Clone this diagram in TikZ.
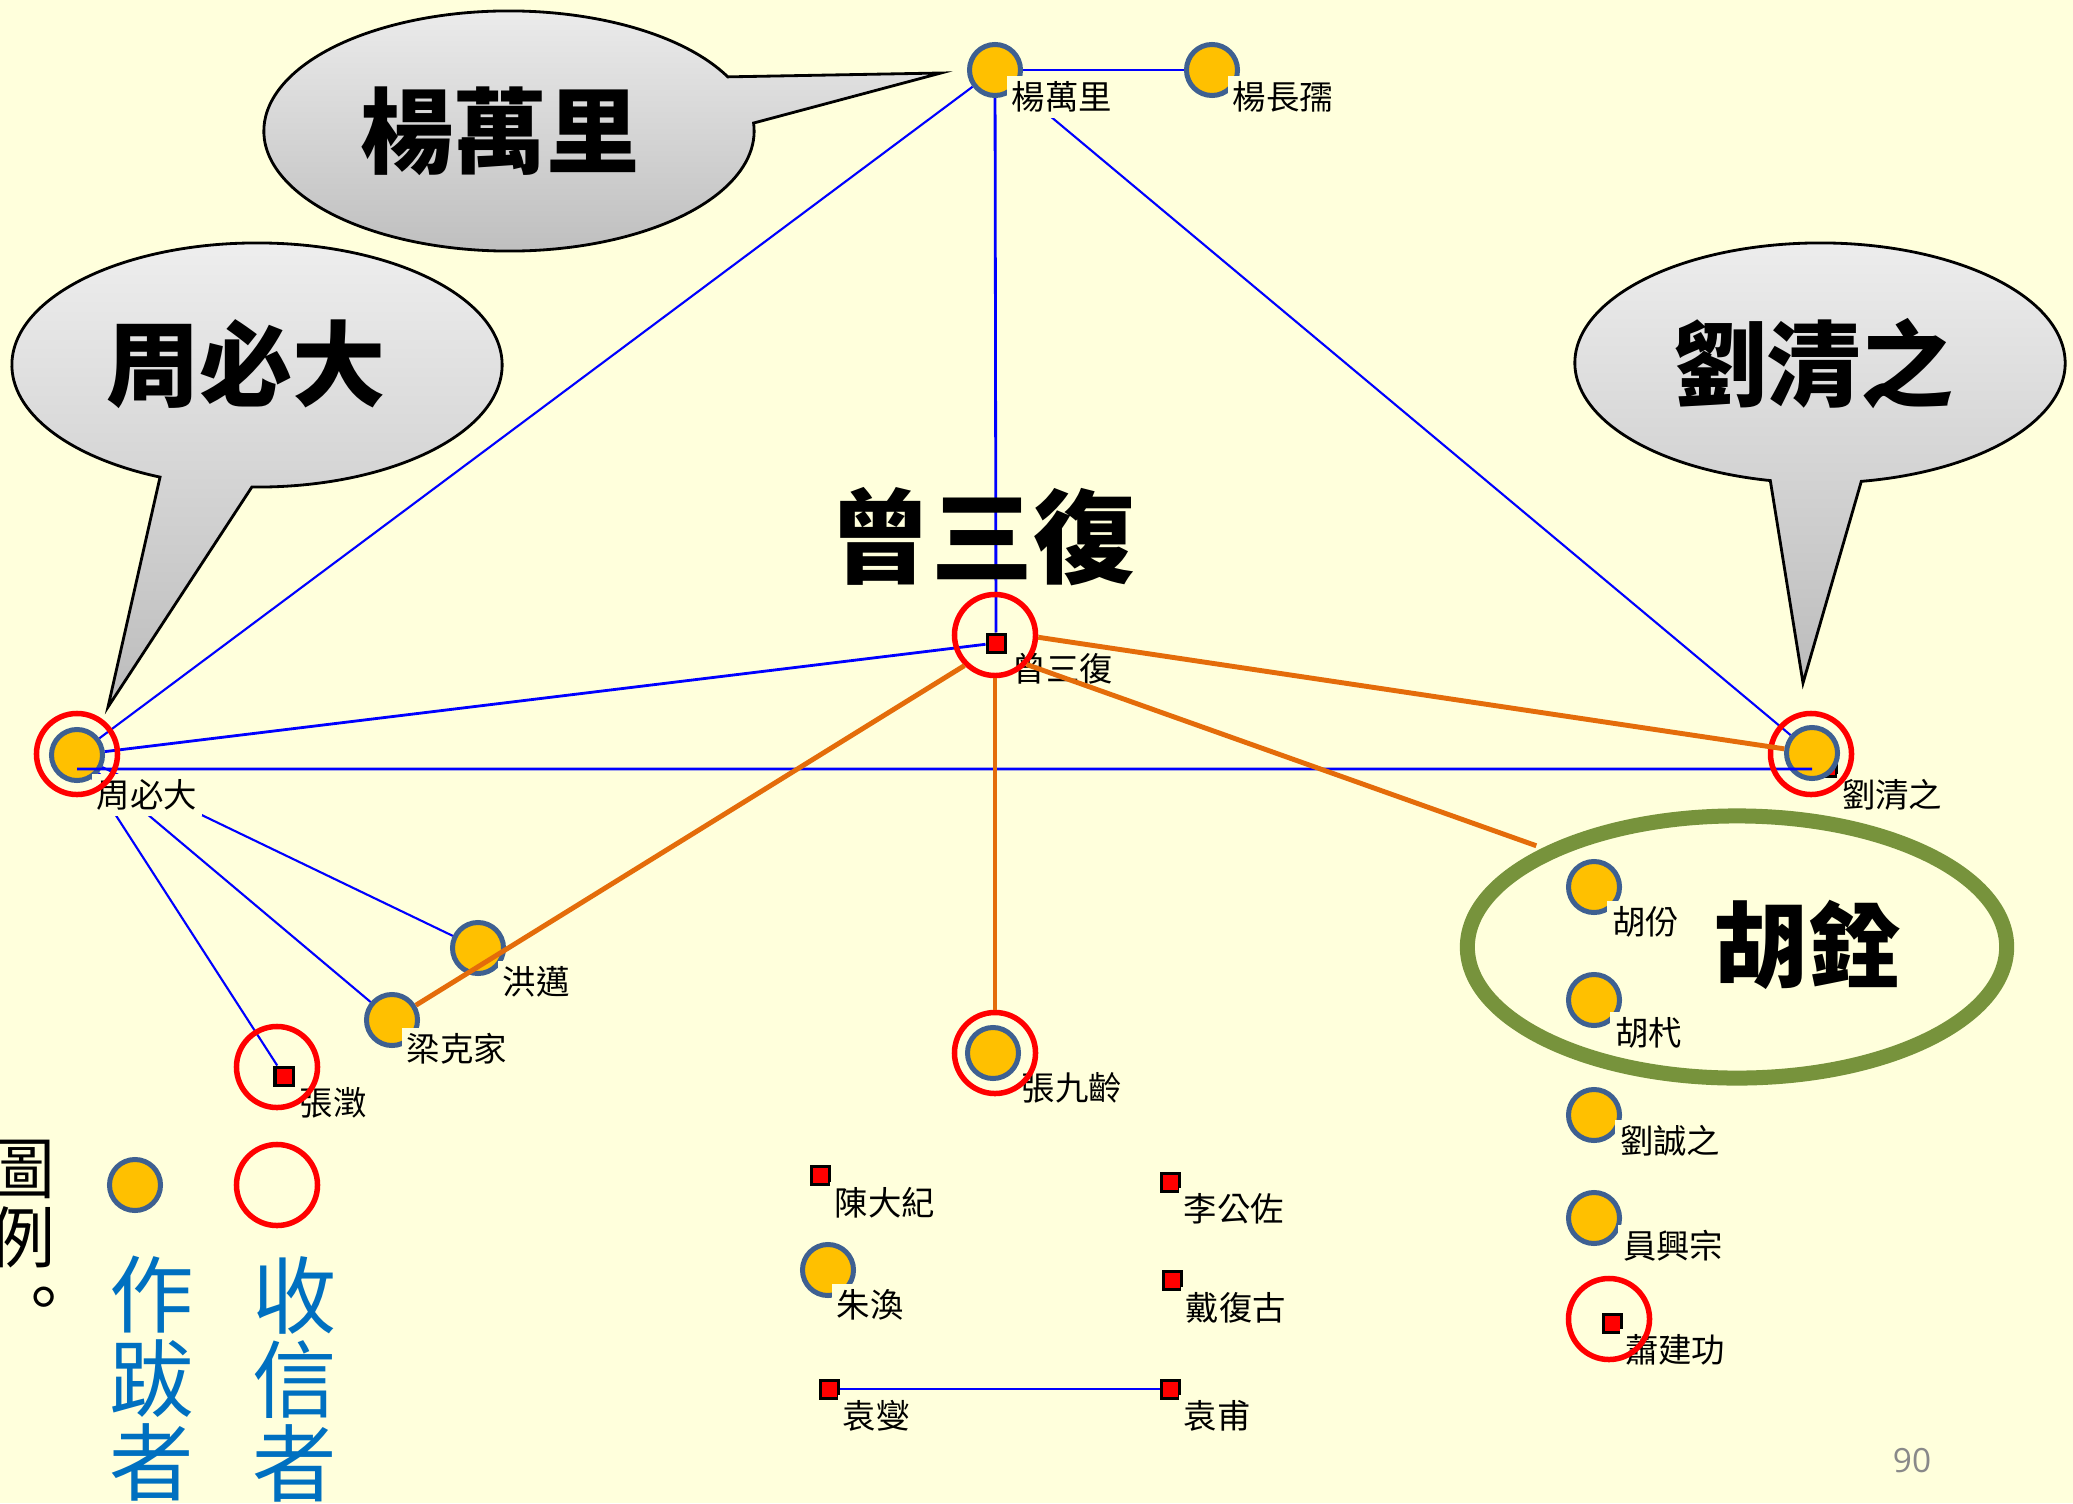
\documentclass[tikz,border=0pt]{standalone}
\usepackage{fontspec}
\setmainfont{Noto Sans CJK TC}
\newfontfamily\pagefont{Open Sans}
\usetikzlibrary{shapes.geometric}

\definecolor{paper}{RGB}{255,255,220}
\definecolor{gold}{RGB}{255,192,0}
\definecolor{rim}{RGB}{62,96,145}
\definecolor{link}{RGB}{0,0,255}
\definecolor{tiecol}{RGB}{228,108,10}
\definecolor{olive}{RGB}{119,147,60}
\definecolor{legendblue}{RGB}{0,112,192}
\definecolor{bubbletop}{RGB}{238,238,238}
\definecolor{bubblebot}{RGB}{188,188,188}
\definecolor{pagegray}{RGB}{137,137,137}

\begin{document}
\begin{tikzpicture}[x=0.01cm, y=-0.01cm,
    author/.style={circle, fill=gold, draw=rim, line width=0.05cm, minimum size=0.51cm, inner sep=0},
    letter/.style={rectangle, fill=red, draw=black, line width=0.03cm, minimum size=0.18cm, inner sep=0},
    ring/.style={circle, draw=red, line width=0.055cm, minimum size=0.81cm, inner sep=0},
    who/.style={anchor=west, fill=paper, inner sep=1.5pt, font=\fontsize{9.5}{10}\selectfont},
    net/.style={draw=link, line width=0.8pt},
    thin net/.style={draw=link, line width=0.6pt},
    sent/.style={draw=tiecol, line width=1.4pt},
    bubble/.style={draw=black, line width=0.8pt, top color=bubbletop, bottom color=bubblebot},
    big/.style={inner sep=0, font=\fontsize{26.5}{30}\bfseries\selectfont}]

    \fill[paper] (0,0) rectangle (2073,1503);
    \useasboundingbox (0,0) rectangle (2073,1503);

    % speech bubbles
    \path[bubble] ([shift={(26.8:2.45cm and 1.2cm)}]509,131)
        arc[start angle=26.8, end angle=363.8, x radius=2.45cm, y radius=1.2cm] -- (941,73) -- cycle;
    \path[bubble] ([shift={(268.8:2.45cm and 1.22cm)}]257,365)
        arc[start angle=268.8, end angle=606.7, x radius=2.45cm, y radius=1.22cm] -- (108,707) -- cycle;
    \path[bubble] ([shift={(279.7:2.45cm and 1.2cm)}]1820,363)
        arc[start angle=279.7, end angle=618.3, x radius=2.45cm, y radius=1.2cm] -- (1803,683) -- cycle;
    \node[big] (byang) at (500,131) {楊萬里};
    \node[big] (bzhou) at (246,364) {周必大};
    \node[big] (bliu) at (1814,364) {劉清之};

    % Hu Quan group
    \node[ellipse, draw=olive, line width=0.15cm, minimum width=5.39cm, minimum height=2.62cm] (huquan) at (1737,947) {};

    % people
    \node[author] (yangwl) at (995,70) {};
    \node[author] (yangcr) at (1212,70) {};
    \node[letter] (zengsf) at (996,643) {};
    \node[author] (zhoubd) at (77,755) {};
    \node[letter] (liusq) at (1827,767) {};
    \node[author] (liuqz) at (1812,753) {};
    \node[author] (hongmai) at (478,948) {};
    \node[author] (liangkj) at (392,1020) {};
    \node[letter] (zhangcheng) at (284,1076) {};
    \node[author] (zhangjl) at (993,1053) {};
    \node[letter] (chendj) at (820,1175) {};
    \node[letter] (ligz) at (1170,1182) {};
    \node[author] (zhuhuan) at (828,1270) {};
    \node[letter] (daifg) at (1172,1280) {};
    \node[letter] (yuanxie) at (829,1389) {};
    \node[letter] (yuanfu) at (1170,1389) {};
    \node[author] (hufen) at (1594,887) {};
    \node[author] (huyi) at (1594,1000) {};
    \node[author] (liucz) at (1594,1115) {};
    \node[author] (yuanxz) at (1594,1218) {};
    \node[letter] (xiaojg) at (1612,1323) {};

    % links
    \draw[net] (yangwl) -- (yangcr);
    \draw[net] (yangwl) -- (zengsf);
    \draw[thin net] (yangwl) -- (liuqz);
    \draw[thin net] (zhoubd) -- (yangwl);
    \draw[net] (zhoubd) -- (zengsf);
    \draw[net] ([yshift=-0.14cm]zhoubd.center) -- ([yshift=-0.16cm]liuqz.center);
    \draw[thin net] (zhoubd) -- (hongmai);
    \draw[thin net] (zhoubd) -- (liangkj);
    \draw[thin net] (zhoubd) -- (zhangcheng);
    \draw[net] (yuanxie) -- (yuanfu);

    % names
    \node[who] (tyangwl) at (1006,97) {楊萬里};
    \node[who] (tyangcr) at (1227,97) {楊長孺};
    \node[who] (tzengsf) at (1007,669) {曾三復};
    \node[who] (tzhoubd) at (91,795) {周必大};
    \node[who] (tliuqz) at (1836,795) {劉清之};
    \node[who] (thongmai) at (497,982) {洪邁};
    \node[who] (tliangkj) at (401,1049) {梁克家};
    \node[who] (tzhangcheng) at (294,1103) {張澂};
    \node[who] (tzhangjl) at (1016,1088) {張九齡};
    \node[who] (tchendj) at (829,1203) {陳大紀};
    \node[who] (tligz) at (1178,1209) {李公佐};
    \node[who] (tzhuhuan) at (831,1305) {朱渙};
    \node[who] (tdaifg) at (1180,1308) {戴復古};
    \node[who] (tyuanxie) at (837,1416) {袁燮};
    \node[who] (tyuanfu) at (1178,1416) {袁甫};
    \node[who] (thufen) at (1606,922) {胡份};
    \node[who] (thuyi) at (1609,1033) {胡杙};
    \node[who] (tliucz) at (1614,1141) {劉誠之};
    \node[who] (tyuanxz) at (1617,1246) {員興宗};
    \node[who] (txiaojg) at (1619,1350) {蕭建功};

    % receivers
    \node[ring] (zengring) at (995,635) {};
    \node[ring] (zhouring) at (77,754) {};
    \node[ring] (liuring) at (1811,754) {};
    \node[ring] (zhangcring) at (277,1067) {};
    \node[ring] (zhangjlring) at (995,1053) {};
    \node[ring] (xiaoring) at (1609,1319) {};

    % letters from Zeng Sanfu
    \draw[sent] (zengring.-3) -- (liuqz);
    \draw[sent, shorten >=2pt] (zengring.-43) -- (huquan.153);
    \draw[sent] (zengring) -- (zhangjlring);
    \draw[sent] (zengring.-135) -- (liangkj);

    \node[inner sep=0, font=\fontsize{29}{32}\bfseries\selectfont] (title) at (982,537) {曾三復};
    \node[big] (thuquan) at (1808,945) {胡銓};

    % legend
    \node[inner sep=0, align=center, font=\fontsize{19}{19.8}\selectfont] (tuli) at (22,1236)
        {圖\\例\\\hspace*{0.65em}\raisebox{0.15em}{。}};
    \node[author] (keyauthor) at (135,1185) {};
    \node[ring] (keyring) at (277,1185) {};
    \node[inner sep=0, align=center, text=legendblue, font=\fontsize{24}{23.9}\selectfont] (tzuoba) at (152,1379) {作\\跋\\者};
    \node[inner sep=0, align=center, text=legendblue, font=\fontsize{24}{23.9}\selectfont] (tshouxin) at (295,1379) {收\\信\\者};

    \node[text=pagegray, font=\pagefont\fontsize{9.5}{10}\selectfont] (pagenum) at (1912,1461) {90};
\end{tikzpicture}
\end{document}
